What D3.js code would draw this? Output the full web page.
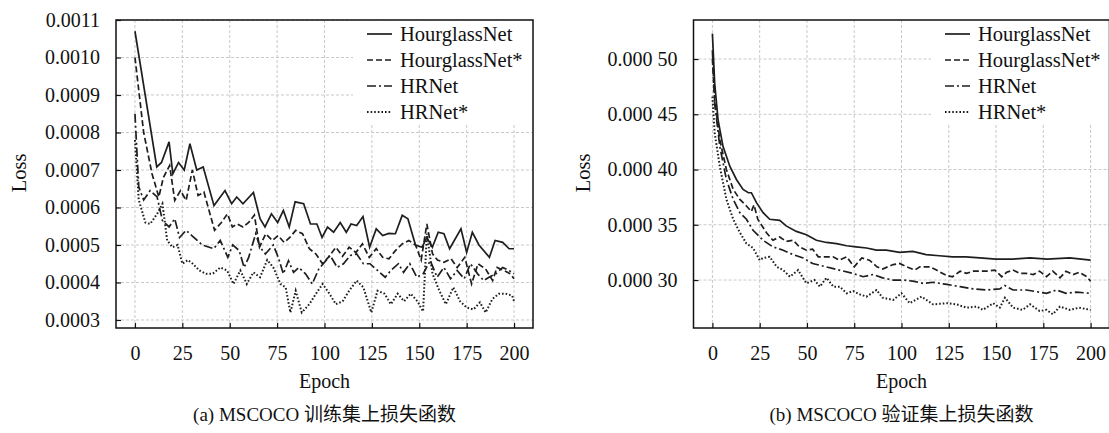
<!DOCTYPE html>
<html>
<head>
<meta charset="utf-8">
<script src="https://cdn.jsdelivr.net/npm/d3@7"></script>
<style>
  body { margin: 0; background: #fff; }
  svg text { font-family: "Liberation Serif", "Times New Roman", Times, "DejaVu Serif", serif; fill: #111; }
  svg text.cjk { font-family: "Liberation Serif", "Times New Roman", Times, serif, "Noto Sans CJK SC"; }
</style>
</head>
<body>
<div id="chart-area"></div>
<script>
// ---- data ----
var seriesNames = ["HourglassNet", "HourglassNet*", "HRNet", "HRNet*"];
var xTicks = [0, 25, 50, 75, 100, 125, 150, 175, 200];
var yTicksTrain = [0.0003, 0.0004, 0.0005, 0.0006, 0.0007, 0.0008, 0.0009, 0.0010, 0.0011];
var yTicksVal = [0.00030, 0.00035, 0.00040, 0.00045, 0.00050];
var captions = ["(a) MSCOCO 训练集上损失函数", "(b) MSCOCO 验证集上损失函数"];

// training loss, [epoch, loss]
var trainHourglass = [[0,0.00107],[11.5,0.000708],[14,0.00072],[18,0.000775],[20,0.00069],[23,0.00072],[26,0.0007],[29,0.00077],[32.6,0.0007],[36,0.000708],[41.7,0.000605],[47.5,0.000645],[51,0.00061],[53.7,0.000628],[57,0.00061],[62.5,0.00064],[66,0.00057],[68.6,0.000548],[72,0.000583],[75.3,0.00056],[78.3,0.000592],[81.4,0.000548],[84.5,0.000615],[89,0.00061],[92.6,0.000556],[96,0.000556],[98.7,0.00052],[101.6,0.000548],[104.8,0.000534],[108.3,0.00056],[111.5,0.000534],[114,0.000556],[117,0.000552],[120.3,0.000576],[123.8,0.000494],[127.3,0.000543],[130.7,0.000525],[133.9,0.000531],[137.4,0.00053],[141,0.000579],[144,0.00057],[148,0.0005],[151.5,0.000494],[154,0.00052],[156.9,0.000494],[160,0.000534],[163,0.00053],[166,0.00049],[172,0.000543],[175,0.00048],[178,0.000534],[181.5,0.0005],[187,0.000467],[190,0.000512],[194,0.000507],[197.4,0.00049],[200,0.00049]];
var trainHourglassStar = [[0,0.001],[4.6,0.0008],[9,0.00069],[12.6,0.000628],[15,0.00068],[18.3,0.000712],[21,0.000619],[24,0.000645],[27,0.000619],[30.3,0.0007],[33.3,0.000632],[36.4,0.000641],[42,0.000539],[45.6,0.00056],[48.8,0.000583],[51.4,0.000548],[54,0.000556],[57,0.000548],[60,0.00056],[63,0.00058],[65.7,0.000494],[69,0.00053],[72.5,0.000512],[75.5,0.000525],[78.7,0.000507],[81.7,0.00052],[84.8,0.000539],[88.4,0.00053],[92,0.00049],[95.5,0.000476],[98.9,0.00045],[102,0.000467],[106,0.000494],[109.5,0.00047],[113,0.000494],[116.6,0.00048],[120,0.000503],[123.6,0.000467],[127.3,0.00049],[130.7,0.000467],[134,0.000463],[137.4,0.000485],[141,0.000503],[144.5,0.000512],[148,0.0005],[151,0.00046],[154,0.000556],[157,0.000476],[159.6,0.00046],[163,0.000454],[166.8,0.000463],[170,0.00044],[174,0.000467],[177.6,0.000396],[181,0.00045],[185,0.000436],[188.7,0.000405],[191,0.00044],[194.6,0.000432],[198,0.000423],[200,0.00041]];
var trainHRNet = [[0,0.00085],[2,0.000655],[4.6,0.00062],[8,0.000645],[11.7,0.000628],[14.5,0.000565],[18,0.000548],[21,0.00057],[23.5,0.00052],[27,0.000539],[30,0.000525],[35.5,0.0005],[41.5,0.00049],[45,0.000512],[49,0.000467],[51.6,0.0005],[55,0.000485],[57.6,0.00044],[60,0.000467],[63.7,0.00053],[66,0.000494],[68.8,0.000476],[73,0.0005],[75.6,0.000467],[78.3,0.000423],[81,0.000458],[83.7,0.000427],[86.4,0.00044],[90,0.000423],[93.5,0.000396],[97,0.000436],[100.7,0.000458],[103,0.000472],[106.7,0.00044],[110,0.00045],[113.6,0.000472],[117,0.000476],[120.5,0.00045],[124,0.00045],[128,0.000432],[132,0.000414],[135,0.000432],[139,0.00045],[141.7,0.000427],[145,0.00045],[148.7,0.000414],[152,0.000423],[155.8,0.000458],[159.4,0.000414],[163,0.00044],[166.5,0.00041],[170,0.000432],[173.7,0.00041],[177,0.00045],[180.8,0.000423],[184,0.000405],[186.8,0.000414],[190.4,0.000423],[194,0.00044],[197.3,0.000432],[200,0.000423]];
var trainHRNetStar = [[0,0.00078],[2,0.00062],[5.5,0.00056],[8,0.000556],[11.7,0.000583],[14.5,0.00061],[17,0.000512],[19.8,0.000494],[22.5,0.0005],[25,0.00045],[28,0.00046],[30.5,0.00045],[34,0.000432],[37.6,0.000423],[41,0.000423],[45,0.00044],[48.6,0.000432],[52,0.000396],[55.6,0.000432],[59,0.000396],[62.5,0.000427],[66,0.000414],[69.8,0.00046],[73,0.00044],[76.8,0.000396],[79.5,0.000387],[82,0.00032],[84.8,0.000378],[88,0.00032],[92,0.000342],[95.5,0.00037],[99,0.000396],[102.6,0.00037],[106,0.000342],[109.6,0.00035],[113,0.000378],[117,0.000405],[120.5,0.000387],[124.7,0.00032],[128,0.000378],[131.7,0.00037],[135,0.000342],[138.6,0.00037],[142,0.00035],[145.5,0.00037],[149,0.00035],[152,0.000323],[154,0.00053],[157,0.000423],[160.6,0.000378],[164,0.000342],[168,0.000387],[171.5,0.00035],[175,0.000333],[178.6,0.000328],[182,0.000347],[185,0.00032],[188.6,0.000356],[192,0.00037],[195.6,0.00037],[199,0.000365],[200,0.00035]];

// validation loss, [epoch, loss]
var valHourglass = [[0,0.000523],[1.2,0.000478],[3,0.000445],[5.6,0.000421],[9.2,0.000403],[12.7,0.000391],[16.2,0.000382],[19,0.000379],[20.6,0.000379],[23.3,0.00037],[26.8,0.000361],[30.3,0.000355],[35.6,0.000354],[39,0.000349],[44.4,0.000344],[49.7,0.000341],[55,0.000336],[60.3,0.000334],[65.6,0.000333],[71,0.000331],[76,0.00033],[81.5,0.000329],[86.8,0.000327],[92,0.000327],[99,0.000325],[106,0.000326],[113,0.000323],[120,0.000322],[127,0.000321],[134,0.000321],[141.4,0.00032],[150,0.000319],[159,0.000319],[168,0.00032],[177,0.000319],[189,0.00032],[200,0.000318]];
var valHourglassStar = [[0,0.0005],[1.2,0.000463],[3.9,0.000427],[7.4,0.0004],[11,0.000382],[14.5,0.000373],[18,0.000367],[20.6,0.000362],[22,0.000368],[24,0.000355],[28.5,0.000343],[32,0.000336],[35.6,0.000339],[39,0.000335],[42.7,0.000336],[46,0.00033],[49.7,0.000327],[53,0.000328],[56,0.000321],[60,0.000321],[63.8,0.000321],[67,0.000318],[71,0.000321],[75,0.000312],[79,0.00032],[83,0.000318],[87,0.000312],[90,0.00031],[95.6,0.000314],[99,0.000315],[102.6,0.000312],[107,0.000309],[109.7,0.000312],[115,0.000312],[118.5,0.000309],[124,0.000304],[127,0.000303],[131,0.000308],[134.4,0.000306],[138,0.000308],[141.4,0.000308],[145,0.000308],[149.4,0.000309],[153,0.000303],[155.6,0.000307],[159,0.000309],[162.6,0.000306],[166,0.000306],[169.7,0.000305],[173,0.000308],[176.7,0.000303],[180,0.000308],[183.8,0.000302],[187,0.000308],[190.8,0.000305],[194,0.000307],[198,0.000303],[200,0.000299]];
var valHRNet = [[0,0.000508],[1.2,0.00046],[3.9,0.000421],[7.4,0.000391],[11,0.000373],[14.5,0.000361],[18,0.000355],[21.5,0.000345],[26.8,0.000336],[32,0.00033],[37.4,0.000327],[42.7,0.000323],[48,0.00032],[53,0.000315],[60,0.000312],[67,0.000309],[74.4,0.000306],[79.7,0.000303],[85,0.000305],[90,0.000302],[95.6,0.0003],[100.9,0.0003],[106,0.000299],[111.5,0.000297],[116.7,0.000298],[124,0.000296],[131,0.000294],[138,0.000292],[145,0.000291],[152,0.000292],[154.7,0.000295],[159,0.000291],[166,0.000291],[173,0.000289],[176.7,0.000288],[182,0.000291],[187,0.000288],[192.6,0.000289],[200,0.000288]];
var valHRNetStar = [[0,0.000466],[1.2,0.000433],[3.9,0.000403],[7.4,0.000373],[11,0.000355],[14.5,0.000343],[18,0.000333],[21.5,0.000329],[25,0.000318],[26.8,0.00032],[30.3,0.000321],[34,0.000312],[37.4,0.000309],[41,0.000303],[45.3,0.000309],[49.7,0.000297],[54,0.0003],[56.8,0.000294],[60.3,0.000302],[64,0.000294],[67.4,0.000294],[71,0.000288],[74.4,0.00029],[78,0.000287],[81.5,0.000285],[86.8,0.000291],[90,0.000284],[95.6,0.000282],[100,0.000288],[104.4,0.000279],[110.6,0.000285],[116.7,0.000278],[124,0.000279],[129,0.000278],[134.4,0.000275],[140,0.000276],[143,0.000273],[148.5,0.000279],[152,0.000275],[154.7,0.000284],[159,0.000275],[164,0.000273],[168,0.000278],[173,0.000272],[176.7,0.000273],[180,0.000269],[183.8,0.000276],[189,0.000273],[194,0.000275],[200,0.000273]];

// ---- drawing ----
var W = 1109, H = 433;
var dashes = [null, "6,3", "9,3,2,3", "1.6,2"];

var svg = d3.select("#chart-area").append("svg")
  .attr("width", W)
  .attr("height", H);

function drawPanel(opts) {
  var left = opts.left, right = opts.right, top = 20, bottom = 328;
  var width = right - left, height = bottom - top;

  var g = svg.append("g")
    .attr("transform", "translate(" + left + "," + top + ")");

  var x = d3.scaleLinear().domain([-10, 210]).range([0, width]);
  var y = d3.scaleLinear().domain(opts.yDomain).range([height, 0]);

  // grid
  g.append("g").selectAll("line.vgrid")
    .data(xTicks)
    .enter().append("line")
      .attr("x1", function(d) { return x(d); })
      .attr("x2", function(d) { return x(d); })
      .attr("y1", 0).attr("y2", height)
      .attr("stroke", "#c9c9c9")
      .attr("stroke-dasharray", "3,2");
  g.append("g").selectAll("line.hgrid")
    .data(opts.yTicks)
    .enter().append("line")
      .attr("x1", 0).attr("x2", width)
      .attr("y1", function(d) { return y(d); })
      .attr("y2", function(d) { return y(d); })
      .attr("stroke", "#c9c9c9")
      .attr("stroke-dasharray", "3,2");

  // lines
  var line = d3.line()
    .x(function(d) { return x(d[0]); })
    .y(function(d) { return y(d[1]); });

  opts.series.forEach(function(s, i) {
    g.append("path")
      .datum(s)
      .attr("fill", "none")
      .attr("stroke", "#1e1e1e")
      .attr("stroke-width", i == 3 ? 2 : 1.7)
      .attr("stroke-dasharray", dashes[i])
      .attr("d", line);
  });

  // axes
  var xAxisCall = d3.axisBottom(x)
    .tickValues(xTicks)
    .tickSize(-5)
    .tickPadding(18);
  var xAxisGroup = g.append("g")
    .attr("transform", "translate(0," + height + ")")
    .call(xAxisCall);

  var yAxisCall = d3.axisLeft(y)
    .tickValues(opts.yTicks)
    .tickSize(-5)
    .tickPadding(16)
    .tickFormat(opts.fmt);
  var yAxisGroup = g.append("g").call(yAxisCall);

  [xAxisGroup, yAxisGroup].forEach(function(a) {
    a.attr("font-family", null);
    a.select(".domain").remove();
    a.selectAll("line").attr("stroke", "#111").attr("stroke-width", 1.2);
    a.selectAll("text")
      .attr("font-size", "20px")
      .attr("fill", "#111");
  });

  // legend (white box hides the grid)
  var lg = g.append("g");
  lg.append("rect")
    .attr("x", opts.legendX - 14).attr("y", 0)
    .attr("width", width - (opts.legendX - 14)).attr("height", 105)
    .attr("fill", "#fff");
  seriesNames.forEach(function(name, i) {
    var cy = 14 + i * 26;
    lg.append("line")
      .attr("x1", opts.legendX).attr("x2", opts.legendX + 25)
      .attr("y1", cy).attr("y2", cy)
      .attr("stroke", "#1e1e1e")
      .attr("stroke-width", i == 3 ? 2 : 1.7)
      .attr("stroke-dasharray", dashes[i]);
    lg.append("text")
      .attr("x", opts.legendX + 33)
      .attr("y", cy + 7)
      .attr("font-size", "20.5px")
      .text(name);
  });

  // frame
  g.append("rect")
    .attr("width", width).attr("height", height)
    .attr("fill", "none")
    .attr("stroke", "#111")
    .attr("stroke-width", 1.5);

  // Y Label
  svg.append("text")
    .attr("transform", "translate(" + opts.lossX + ",173) rotate(-90)")
    .attr("text-anchor", "middle")
    .attr("font-size", "20.5px")
    .text("Loss");

  // X Label
  svg.append("text")
    .attr("x", left + width / 2)
    .attr("y", 388)
    .attr("text-anchor", "middle")
    .attr("font-size", "20px")
    .text("Epoch");

  // caption
  svg.append("text")
    .attr("class", "cjk")
    .attr("x", left + width / 2)
    .attr("y", 421)
    .attr("text-anchor", "middle")
    .attr("font-size", "19px")
    .text(opts.caption);
}

drawPanel({
  left: 116, right: 533,
  yDomain: [0.0002786, 0.0011],
  yTicks: yTicksTrain,
  fmt: d3.format(".4f"),
  series: [trainHourglass, trainHourglassStar, trainHRNet, trainHRNetStar],
  legendX: 251,
  lossX: 26,
  caption: captions[0]
});

drawPanel({
  left: 693.5, right: 1109.5,
  yDomain: [0.0002566, 0.0005353],
  yTicks: yTicksVal,
  fmt: function(d) { var s = d3.format(".5f")(d); return s.slice(0, 5) + " " + s.slice(5); },
  series: [valHourglass, valHourglassStar, valHRNet, valHRNetStar],
  legendX: 251.5,
  lossX: 590,
  caption: captions[1]
});
</script>
</body>
</html>
